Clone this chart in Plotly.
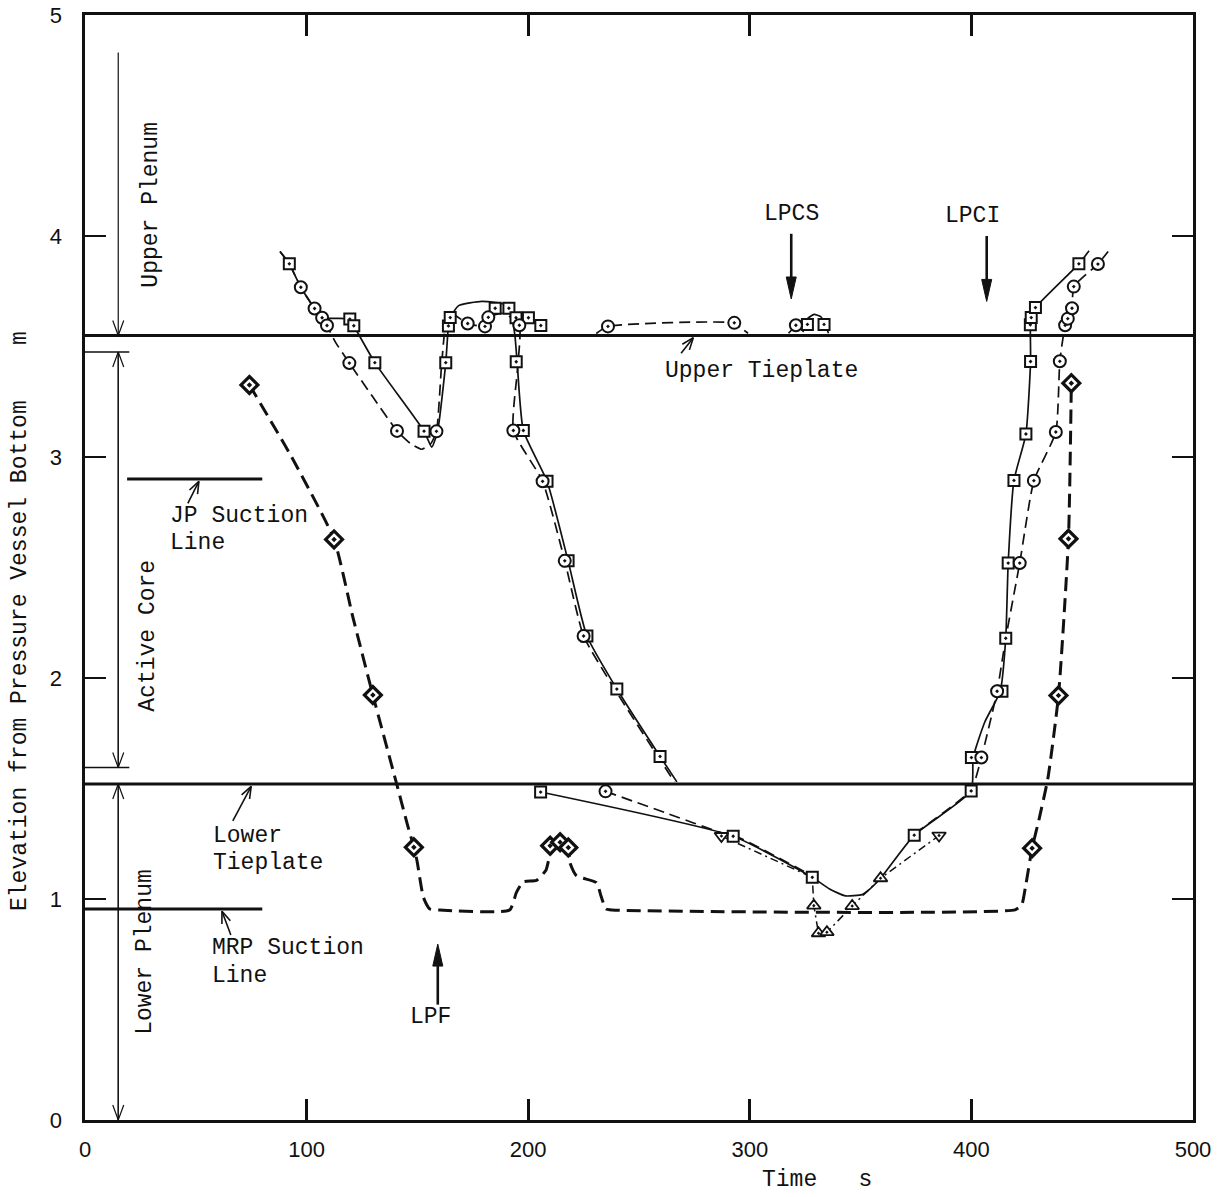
import math
import plotly.graph_objects as go

# ---------------- data (time s, elevation m) ----------------
# reference elevations
upper_tieplate = 3.55
lower_tieplate = 1.52
jp_suction = 2.90
jp_suction_span = [19, 80]
mrp_suction = 0.955
mrp_suction_span = [0, 80]
core_top = 3.475
core_bottom = 1.595
core_mark_span = [0, 20]
region_arrow_t = 15
upper_plenum_top = 4.83

# Squares, solid line
sq_line_t = [88.0, 92.2, 97.4, 103.6, 107.0, 119.5, 121.3, 130.8, 153.0, 156.5, 159.1, 162.8, 164.0, 164.8,
             168.6, 179.1, 189.6, 192.5, 194.0, 195.0, 197.8, 208.5, 218.0, 226.5, 240.0, 259.5, 267.1, None,
             205.6, 292.5, 328.2, 336.0, 343.2, 350.7, 353.0, 359.0, 374.2, 399.9, 400.8, 406.0, 413.0, 415.5,
             416.6, 419.2, 424.6, 426.7, 426.6, 427.0, 428.9, 448.5, 453.1, None,
             324.0, 326.0, 329.0, 332.0, 334.0, 335.5]
sq_line_v = [3.93, 3.874, 3.768, 3.672, 3.63, 3.624, 3.594, 3.427, 3.117, 3.045, 3.116, 3.427, 3.593, 3.631,
             3.685, 3.704, 3.690, 3.64, 3.55, 3.431, 3.12, 2.89, 2.53, 2.19, 1.95, 1.645, 1.53, None,
             1.484, 1.284, 1.098, 1.045, 1.014, 1.02, 1.035, 1.094, 1.289, 1.489, 1.64, 1.80, 1.94, 2.18,
             2.52, 2.894, 3.104, 3.432, 3.598, 3.631, 3.676, 3.874, 3.933, None,
             3.565, 3.625, 3.645, 3.635, 3.60, 3.56]
sq_mark_t = [92.2, 119.5, 121.3, 130.8, 153.0, 162.8, 164.0, 164.8, 185.1, 191.3, 194.5, 200.1, 205.7, 194.6,
             197.8, 208.5, 218.0, 226.5, 240.0, 259.5, 326.0, 333.5,
             205.6, 292.5, 328.2, 374.2, 399.9, 400.0, 413.8, 415.5, 416.6, 419.2, 424.6, 426.7, 426.6, 427.0,
             428.9, 448.5]
sq_mark_v = [3.874, 3.624, 3.594, 3.427, 3.117, 3.427, 3.593, 3.631, 3.673, 3.673, 3.630, 3.630, 3.595, 3.431,
             3.12, 2.89, 2.53, 2.19, 1.95, 1.645, 3.60, 3.60,
             1.484, 1.284, 1.098, 1.289, 1.489, 1.64, 1.94, 2.18, 2.52, 2.894, 3.104, 3.432, 3.598, 3.631,
             3.676, 3.874]

# Circles, long-dashed line
ci_line_t = [88.0, 92.2, 97.4, 103.6, 107.0, 109.2, 113.0, 119.3, 130.0, 140.8, 147.0, 152.0, 156.0, 158.6,
             160.8, 162.5, 165.0, 172.7, 180.5, 182.0, 189.0, 196.0, 195.2, 193.3, 206.5, 216.5, 225.0, 239.0,
             258.5, 266.0, None,
             230.7, 236.0, 293.0, 296.0, 299.2, None,
             317.5, 320.8, None,
             234.9, 262.0, 287.2, 292.5, 328.2, None,
             374.2, 399.9, 404.5, 411.6, 415.5, 421.8, 428.2, 438.1, 439.9, 442.3, 443.5, 445.4, 446.2, 457.1,
             461.7]
ci_line_v = [3.93, 3.874, 3.768, 3.672, 3.630, 3.595, 3.52, 3.425, 3.27, 3.118, 3.06, 3.035, 3.06, 3.116,
             3.40, 3.58, 3.65, 3.604, 3.591, 3.632, 3.65, 3.596, 3.40, 3.12, 2.89, 2.53, 2.19, 1.95,
             1.645, 1.53, None,
             3.559, 3.591, 3.607, 3.585, 3.56, None,
             3.56, 3.596, None,
             1.487, 1.39, 1.30, 1.29, 1.105, None,
             1.295, 1.495, 1.64, 1.94, 2.18, 2.52, 2.893, 3.113, 3.433, 3.596, 3.626, 3.673, 3.771, 3.873,
             3.93]
ci_mark_t = [97.4, 103.6, 107.0, 109.2, 119.3, 140.8, 158.6, 172.7, 180.5, 182.0, 196.0, 193.3, 206.5, 216.5,
             225.0, 236.0, 293.0, 320.8, 234.9, 404.5, 411.6, 421.8, 428.2, 438.1, 439.9, 442.3, 443.5, 445.4,
             446.2, 457.1]
ci_mark_v = [3.768, 3.672, 3.630, 3.595, 3.425, 3.118, 3.116, 3.604, 3.591, 3.632, 3.596, 3.12, 2.89, 2.53,
             2.19, 3.591, 3.607, 3.596, 1.487, 1.64, 1.94, 2.52, 2.893, 3.113, 3.433, 3.596, 3.626, 3.673,
             3.771, 3.873]

# Diamonds, heavy dashed line
di_line_t = [74.2, 92.9, 112.4, 120.8, 129.9, 140.4, 145.4, 148.4, 149.8, 152.7, 155.6, 160.0, 191.6, 194.7,
             197.8, 203.7, 208.0, 209.9, 214.4, 218.1, 218.8, 221.8, 230.8, 232.9, 235.1, 238.0, 419.7, 422.7,
             424.3, 427.4, 430.6, 434.5, 439.3, 443.8, 445.1]
di_line_v = [3.326, 3.006, 2.627, 2.279, 1.923, 1.53, 1.34, 1.234, 1.174, 1.008, 0.955, 0.95, 0.95, 1.03,
             1.078, 1.084, 1.13, 1.20, 1.257, 1.233, 1.165, 1.105, 1.074, 1.012, 0.955, 0.95, 0.951, 0.973,
             1.049, 1.23, 1.364, 1.545, 1.921, 2.63, 3.334]
di_mark_t = [74.2, 112.4, 129.9, 148.4, 209.9, 214.4, 218.1, 427.4, 439.3, 443.8, 445.1]
di_mark_v = [3.326, 2.627, 1.923, 1.234, 1.241, 1.257, 1.233, 1.23, 1.921, 2.63, 3.334]

# Triangles, dash-dot line
tr_line_t = [287.2, 328.2, 328.9, 331.0, 334.8, 346.2, 359.0, 385.4]
tr_line_v = [1.285, 1.098, 0.97, 0.845, 0.85, 0.968, 1.094, 1.287]
tr_mark_t = [287.2, 328.9, 331.0, 334.8, 346.2, 359.0, 385.4]
tr_mark_v = [1.285, 0.97, 0.845, 0.85, 0.968, 1.094, 1.287]
tr_mark_sym = ["triangle-down-dot", "triangle-up-dot", "triangle-up-dot", "triangle-up-dot",
               "triangle-up-dot", "triangle-up-dot", "triangle-down-dot"]

# event arrows: (label, time, tail elevation, tip elevation, label elevation, label time)
events = [("LPCS", 318.7, 4.01, 3.715, 4.10, 319.0),
          ("LPCI", 406.9, 4.00, 3.704, 4.09, 400.4),
          ("LPF", 159.2, 0.522, 0.796, 0.464, 155.9)]

# ---------------- layout geometry ----------------
W, H = 1221, 1197
ML, MR, MT, MB = 85, 28, 15, 77
PW, PH = W - ML - MR, H - MT - MB
PX_T = PW / 500.0
PX_V = PH / 5.0

MONO = "Liberation Mono"
BLACK = "#111111"

fig = go.Figure()


def line(xs, ys, width=1.6, dash="solid", shape="linear", smoothing=0.6):
    fig.add_trace(go.Scatter(x=xs, y=ys, mode="lines", hoverinfo="skip", showlegend=False,
                             line=dict(color=BLACK, width=width, dash=dash, shape=shape,
                                       smoothing=smoothing if shape == "spline" else None)))


def arrow(tail, tip, hl=15, hw=11, width=1.3, filled=False):
    dx = (tip[0] - tail[0]) * PX_T
    dy = (tip[1] - tail[1]) * PX_V
    L = math.hypot(dx, dy)
    ux, uy = dx / L, dy / L
    nx, ny = -uy, ux
    tx, ty = tip[0] * PX_T, tip[1] * PX_V
    bx, by = tx - ux * hl, ty - uy * hl
    lpt = ((bx + nx * hw / 2) / PX_T, (by + ny * hw / 2) / PX_V)
    rpt = ((bx - nx * hw / 2) / PX_T, (by - ny * hw / 2) / PX_V)
    if filled:
        line([tail[0], bx / PX_T], [tail[1], by / PX_V], width=width)
        fig.add_trace(go.Scatter(x=[lpt[0], tip[0], rpt[0], lpt[0]], y=[lpt[1], tip[1], rpt[1], lpt[1]],
                                 mode="lines", fill="toself", fillcolor=BLACK, hoverinfo="skip",
                                 showlegend=False, line=dict(color=BLACK, width=1)))
    else:
        line([tail[0], tip[0]], [tail[1], tip[1]], width=width)
        line([lpt[0], tip[0], rpt[0]], [lpt[1], tip[1], rpt[1]], width=width)


# reference lines
line([0, 500], [upper_tieplate] * 2, width=3)
line([0, 500], [lower_tieplate] * 2, width=3)
line(jp_suction_span, [jp_suction] * 2, width=3)
line(mrp_suction_span, [mrp_suction] * 2, width=3)
line(core_mark_span, [core_top] * 2, width=1.5)
line(core_mark_span, [core_bottom] * 2, width=1.5)

# region arrows on the left
arrow((region_arrow_t, upper_plenum_top), (region_arrow_t, upper_tieplate), width=1.2)
arrow((region_arrow_t, core_bottom), (region_arrow_t, core_top), width=1.2)
arrow((region_arrow_t, core_top), (region_arrow_t, core_bottom), width=1.2)
arrow((region_arrow_t, 0.0), (region_arrow_t, lower_tieplate), width=1.2)
arrow((region_arrow_t, lower_tieplate), (region_arrow_t, 0.0), width=1.2)

# label pointer arrows
arrow((46.4, 2.79), (51.4, jp_suction - 0.01), hl=12, hw=9, width=1.6)
arrow((269.0, 3.47), (274.5, upper_tieplate - 0.01), hl=12, hw=9, width=1.6)
arrow((66.7, 1.353), (75.0, lower_tieplate - 0.01), hl=12, hw=9, width=1.6)
arrow((65.8, 0.837), (61.8, mrp_suction - 0.01), hl=12, hw=9, width=1.6)

# event arrows
for name, t, v0, v1, lv, lt in events:
    arrow((t, v0), (t, v1), hl=22, hw=10, width=2.6, filled=True)

# data curves
line(sq_line_t, sq_line_v, width=1.7, shape="spline", smoothing=0.5)
line(ci_line_t, ci_line_v, width=1.7, dash="11px,6px", shape="spline", smoothing=0.5)
line(di_line_t, di_line_v, width=3.0, dash="14px,7px", shape="spline", smoothing=0.5)
line(tr_line_t, tr_line_v, width=1.5, dash="8px,4px,2px,4px", shape="linear")

# markers
fig.add_trace(go.Scatter(x=sq_mark_t, y=sq_mark_v, mode="markers", hoverinfo="skip", showlegend=False,
                         marker=dict(symbol="square-dot", size=11, color="white",
                                     line=dict(color=BLACK, width=2.0))))
fig.add_trace(go.Scatter(x=ci_mark_t, y=ci_mark_v, mode="markers", hoverinfo="skip", showlegend=False,
                         marker=dict(symbol="circle-dot", size=12, color="white",
                                     line=dict(color=BLACK, width=2.0))))
fig.add_trace(go.Scatter(x=di_mark_t, y=di_mark_v, mode="markers", hoverinfo="skip", showlegend=False,
                         marker=dict(symbol="diamond-dot", size=13, color="white",
                                     line=dict(color=BLACK, width=3.2))))
fig.add_trace(go.Scatter(x=tr_mark_t, y=tr_mark_v, mode="markers", hoverinfo="skip", showlegend=False,
                         marker=dict(symbol=tr_mark_sym, size=12, color="white",
                                     line=dict(color=BLACK, width=1.8))))

# text labels
FS = 23


def text(s, x, y, xanchor="center", angle=0, size=FS, xref="x", yref="y"):
    fig.add_annotation(text=s, x=x, y=y, xref=xref, yref=yref, xanchor=xanchor, yanchor="middle",
                       showarrow=False, textangle=angle, font=dict(family=MONO, size=size, color=BLACK))


for name, t, v0, v1, lv, lt in events:
    text(name, lt, lv)
text("Upper Tieplate", 260.7, 3.39, xanchor="left")
text("JP Suction", 37.4, 2.733, xanchor="left")
text("Line", 37.4, 2.61, xanchor="left")
text("Lower", 56.8, 1.285, xanchor="left")
text("Tieplate", 56.8, 1.163, xanchor="left")
text("MRP Suction", 56.3, 0.778, xanchor="left")
text("Line", 56.3, 0.652, xanchor="left")
text("Upper Plenum", 29.6, 4.14, angle=-90)
text("Active Core", 28.3, 2.19, angle=-90)
text("Lower Plenum", 27.0, 0.76, angle=-90)

# axis titles
text("Elevation from Pressure Vessel Bottom\u00a0\u00a0\u00a0\u00a0m", (20 - ML) / PW, (H - MB - 621) / PH,
     angle=-90, xref="paper", yref="paper")
text("Time\u00a0\u00a0\u00a0s", (760 - ML) / PW, (H - MB - 1180) / PH, xanchor="left",
     xref="paper", yref="paper")

axis_common = dict(showline=True, linewidth=2.6, linecolor=BLACK, mirror="ticks", ticks="inside",
                   ticklen=21, tickwidth=2.6, tickcolor=BLACK, showgrid=False, zeroline=False,
                   automargin=False, tickfont=dict(family="Liberation Sans", size=22, color=BLACK))

fig.update_layout(
    template="none",
    width=W, height=H,
    margin=dict(l=ML, r=MR, t=MT, b=MB, pad=0),
    paper_bgcolor="white", plot_bgcolor="white",
    showlegend=False,
    xaxis=dict(range=[0, 500], tickvals=[0, 100, 200, 300, 400, 500], ticklabelstandoff=8, **axis_common),
    yaxis=dict(range=[0, 5], tickvals=[0, 1, 2, 3, 4, 5], ticklabelstandoff=16, **axis_common),
)

fig.write_html("out.html",
               config={"displayModeBar": False, "staticPlot": True},
               post_script="document.body.style.margin='0';document.body.style.padding='0';"
                           "document.body.style.overflow='hidden';")
